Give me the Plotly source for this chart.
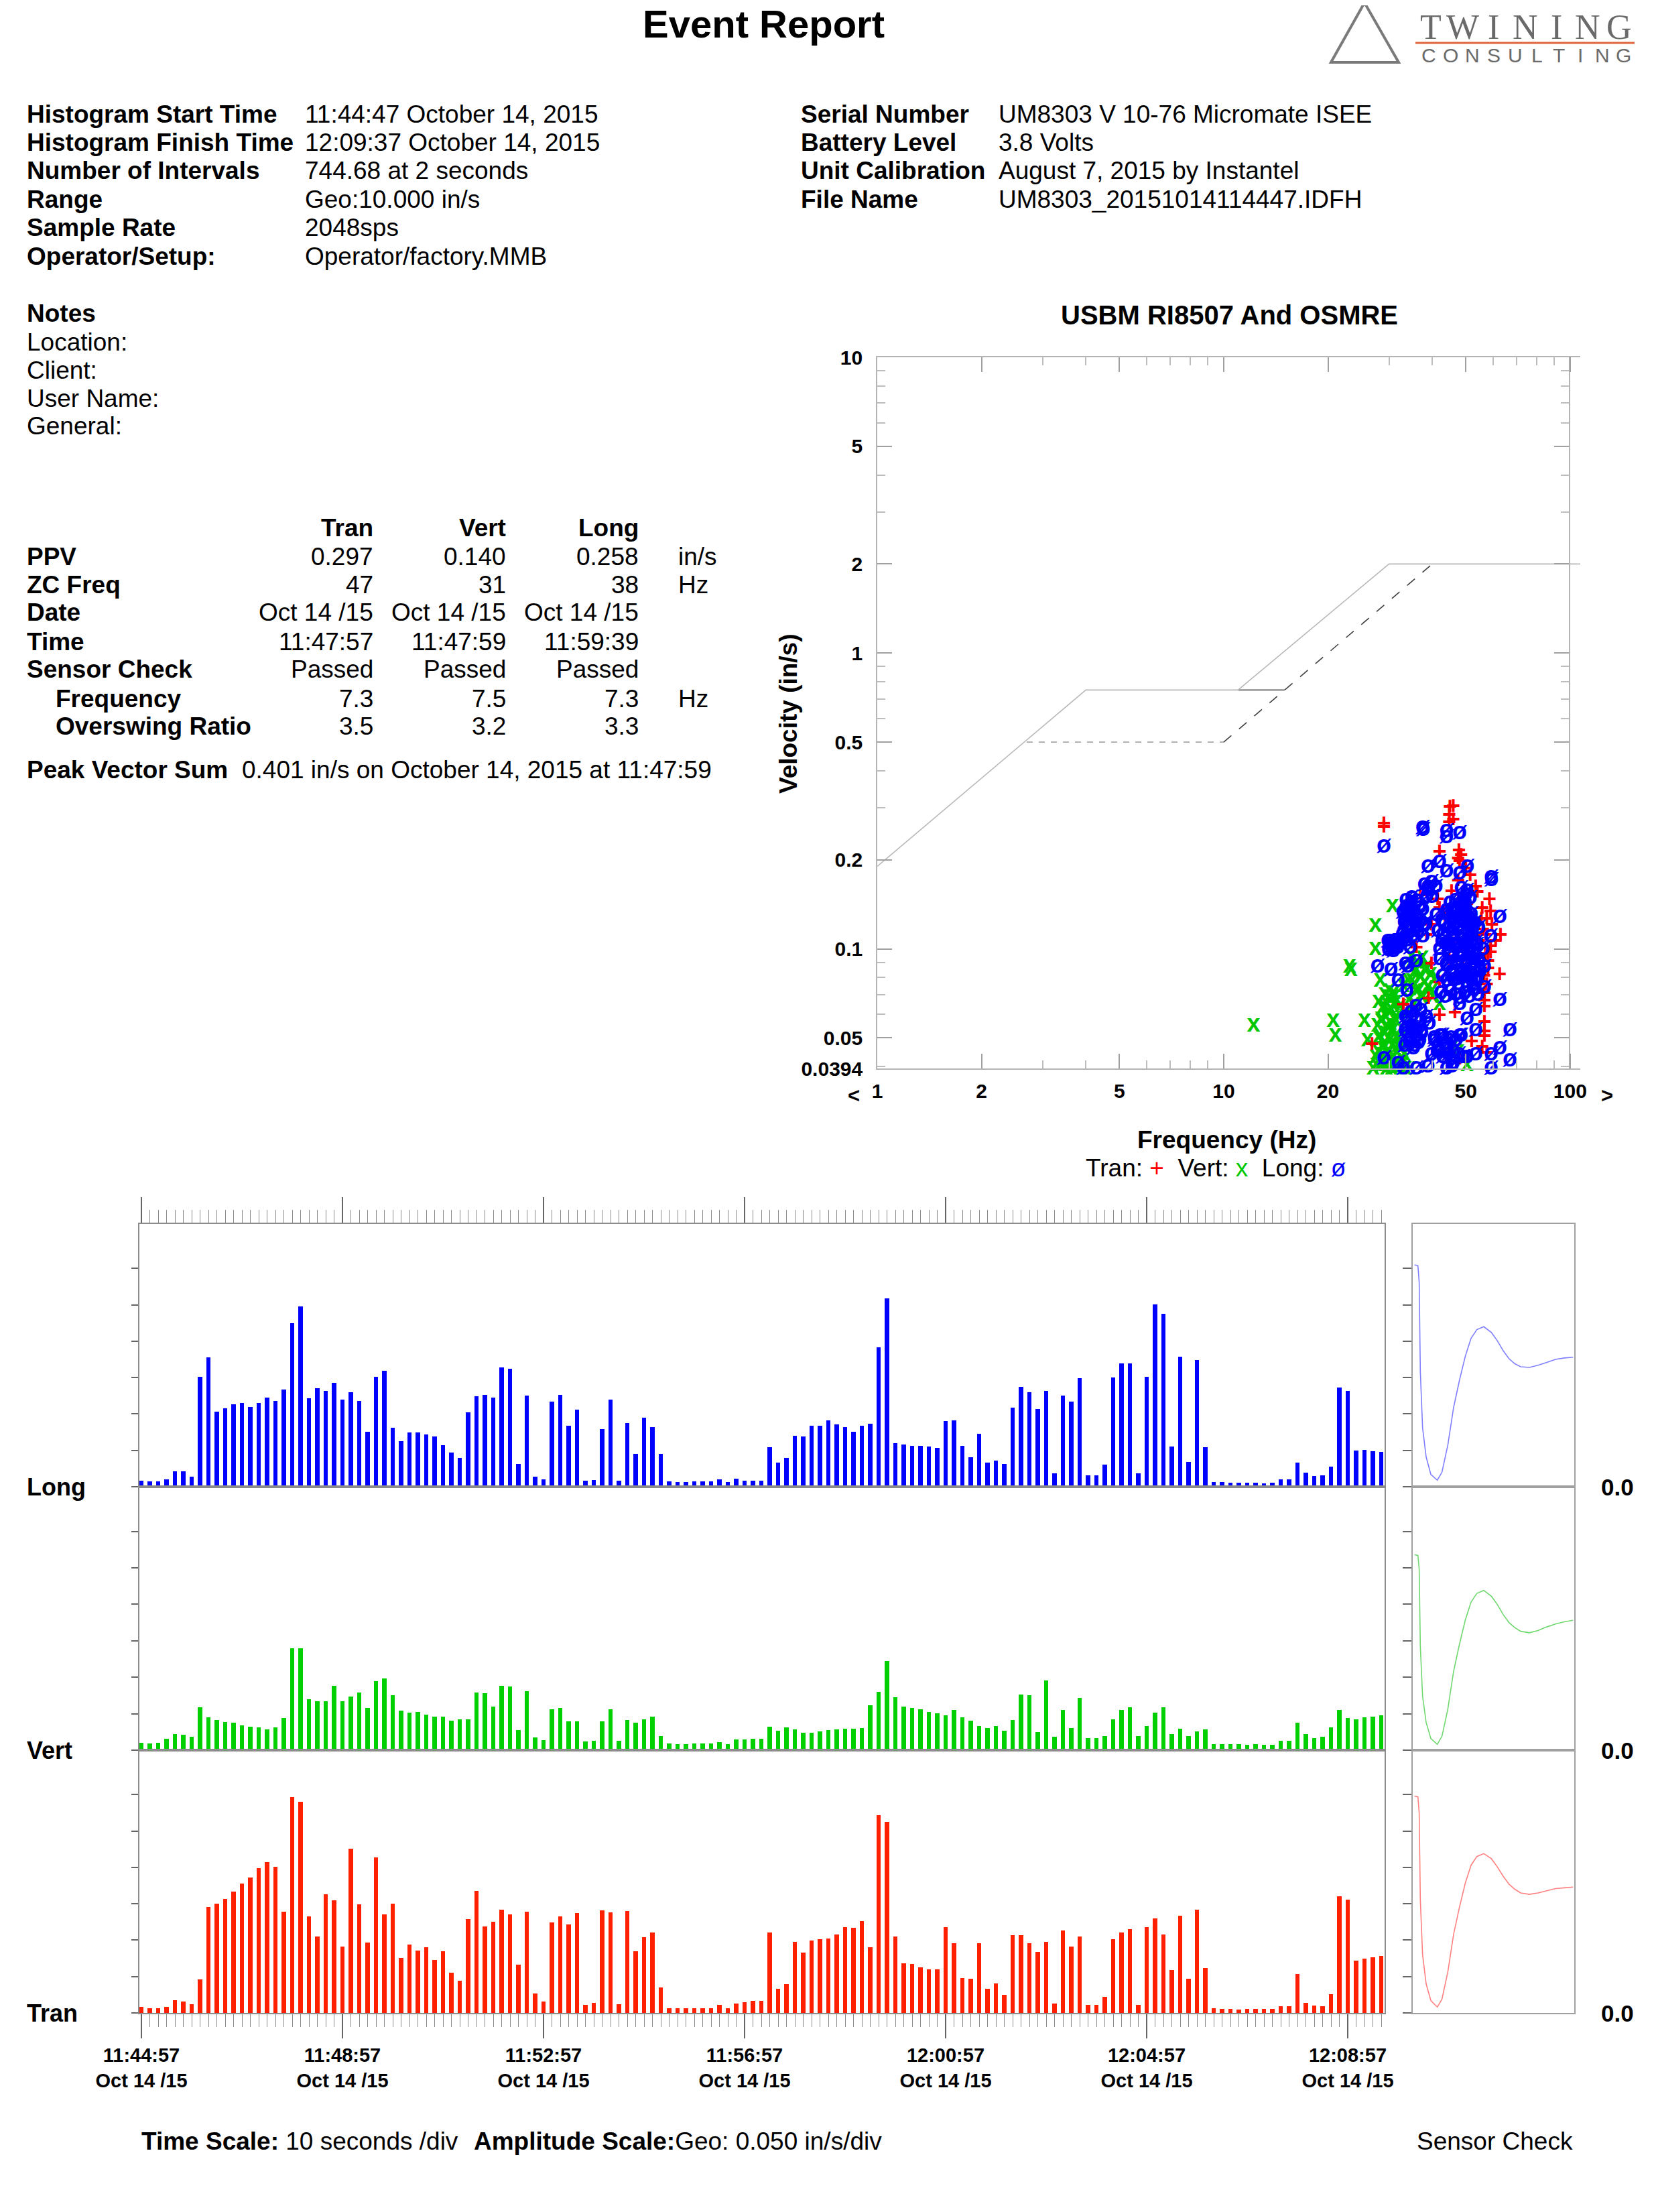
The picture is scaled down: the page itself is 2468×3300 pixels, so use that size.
import math
import pandas as pd
import plotly.graph_objects as go

W, H = 2468, 3300          # page size of the reference
OFF = 8                    # default body margin of the html page
FW, FH = W - 2 * OFF, H - 2 * OFF
FONT = "Liberation Sans, Arial, Helvetica, sans-serif"
SERIF = "Liberation Serif, Times New Roman, serif"

# ------------------------------------------------------------------ data
hist_start = "2015-10-14 11:44:57"
interval_s = 10

long_ppv = [
    0.008, 0.007, 0.007, 0.010, 0.021, 0.021, 0.014, 0.151, 0.178, 0.103,
    0.108, 0.113, 0.115, 0.110, 0.115, 0.123, 0.118, 0.134, 0.225, 0.248,
    0.122, 0.135, 0.132, 0.143, 0.120, 0.130, 0.118, 0.076, 0.151, 0.159,
    0.081, 0.063, 0.075, 0.075, 0.072, 0.069, 0.057, 0.047, 0.040, 0.102,
    0.124, 0.126, 0.123, 0.164, 0.162, 0.031, 0.125, 0.014, 0.010, 0.117,
    0.126, 0.084, 0.106, 0.008, 0.009, 0.079, 0.120, 0.008, 0.088, 0.045,
    0.095, 0.082, 0.045, 0.007, 0.006, 0.006, 0.007, 0.007, 0.007, 0.010,
    0.006, 0.011, 0.008, 0.008, 0.008, 0.054, 0.033, 0.040, 0.070, 0.069,
    0.084, 0.084, 0.091, 0.086, 0.082, 0.076, 0.084, 0.087, 0.192, 0.259,
    0.060, 0.058, 0.056, 0.056, 0.055, 0.053, 0.090, 0.091, 0.056, 0.041,
    0.073, 0.033, 0.036, 0.031, 0.109, 0.137, 0.130, 0.107, 0.132, 0.018,
    0.125, 0.117, 0.149, 0.016, 0.016, 0.030, 0.150, 0.170, 0.170, 0.018,
    0.151, 0.251, 0.238, 0.055, 0.179, 0.034, 0.174, 0.054, 0.006, 0.006,
    0.0055, 0.0055, 0.0055, 0.0055, 0.005, 0.0055, 0.010, 0.010, 0.033, 0.019,
    0.015, 0.016, 0.028, 0.136, 0.132, 0.050, 0.051, 0.049, 0.048,
]
vert_ppv = [
    0.010, 0.0095, 0.010, 0.0156, 0.0218, 0.0215, 0.0187, 0.0589, 0.0454, 0.0414,
    0.039, 0.0377, 0.034, 0.0325, 0.0316, 0.0285, 0.0313, 0.0439, 0.140, 0.140,
    0.0702, 0.0672, 0.0669, 0.0883, 0.0672, 0.0733, 0.0791, 0.0583, 0.0945, 0.0982,
    0.0755, 0.0543, 0.0512, 0.0528, 0.0488, 0.0463, 0.0463, 0.0405, 0.042, 0.0423,
    0.0794, 0.0782, 0.0598, 0.0883, 0.0871, 0.0273, 0.0807, 0.0175, 0.0141, 0.0558,
    0.0577, 0.0393, 0.0399, 0.0123, 0.0126, 0.0399, 0.0564, 0.0126, 0.0411, 0.0377,
    0.0423, 0.0457, 0.0193, 0.0095, 0.0086, 0.0086, 0.0092, 0.0095, 0.0092, 0.0107,
    0.0086, 0.0147, 0.015, 0.0156, 0.016, 0.0319, 0.0264, 0.0316, 0.0288, 0.0242,
    0.0239, 0.0255, 0.0279, 0.0288, 0.0294, 0.0298, 0.0304, 0.062, 0.0804, 0.1218,
    0.073, 0.0598, 0.0577, 0.0558, 0.0528, 0.0506, 0.0479, 0.0555, 0.0448, 0.0408,
    0.0331, 0.0307, 0.0331, 0.0264, 0.0414, 0.0767, 0.0752, 0.0252, 0.096, 0.0187,
    0.0555, 0.0307, 0.0715, 0.0166, 0.0166, 0.0193, 0.042, 0.0552, 0.0589, 0.019,
    0.0331, 0.0518, 0.0589, 0.0224, 0.0294, 0.019, 0.0261, 0.0285, 0.0083, 0.0083,
    0.0083, 0.0083, 0.0077, 0.0083, 0.0074, 0.0074, 0.0129, 0.0129, 0.0377, 0.0224,
    0.0169, 0.0184, 0.0316, 0.0549, 0.0445, 0.042, 0.0451, 0.0463, 0.0482,
]
tran_ppv = [
    0.0083, 0.0061, 0.0064, 0.0083, 0.0175, 0.0153, 0.0123, 0.0457, 0.1454, 0.1506,
    0.157, 0.1666, 0.1779, 0.1862, 0.1988, 0.2074, 0.2006, 0.1387, 0.297, 0.2905,
    0.1328, 0.1046, 0.1629, 0.1549, 0.0908, 0.2255, 0.1491, 0.0963, 0.2135, 0.1353,
    0.1506, 0.0758, 0.0942, 0.0856, 0.0902, 0.073, 0.0847, 0.0552, 0.0442, 0.1288,
    0.1681, 0.1193, 0.1249, 0.1423, 0.1353, 0.0666, 0.1396, 0.0264, 0.0153, 0.1245,
    0.1331, 0.1212, 0.1377, 0.0107, 0.0141, 0.1414, 0.138, 0.0123, 0.1405, 0.0847,
    0.104, 0.1107, 0.035, 0.0064, 0.0064, 0.0064, 0.0064, 0.0064, 0.0064, 0.0107,
    0.0061, 0.0132, 0.015, 0.0163, 0.0169, 0.1104, 0.0328, 0.0399, 0.0979, 0.0831,
    0.0997, 0.1018, 0.1025, 0.1077, 0.1178, 0.1166, 0.1258, 0.0899, 0.2715, 0.2626,
    0.1049, 0.0681, 0.0669, 0.0623, 0.0598, 0.0595, 0.1175, 0.0954, 0.0475, 0.0472,
    0.0954, 0.0334, 0.0402, 0.0252, 0.1071, 0.1067, 0.096, 0.0837, 0.0975, 0.0132,
    0.1138, 0.0911, 0.1049, 0.0107, 0.0107, 0.0218, 0.1012, 0.1104, 0.115, 0.0107,
    0.1178, 0.1301, 0.108, 0.0589, 0.1334, 0.0466, 0.1423, 0.0614, 0.0061, 0.0052,
    0.0052, 0.0049, 0.0052, 0.0052, 0.0052, 0.0052, 0.0092, 0.0089, 0.0534, 0.0135,
    0.0098, 0.0092, 0.0255, 0.1604, 0.1561, 0.0715, 0.0742, 0.0767, 0.0779,
]

# sensor check waveforms (time in % of window, amplitude in in/s above baseline)
sensor_t = [1.1, 3.2, 4.0, 4.7, 6.1, 8.3, 11.2, 15.2, 18.1, 21.7, 25.3, 28.9, 32.5, 36.1,
            39.7, 44.0, 48.7, 52.3, 56.0, 59.6, 63.2, 66.8, 72.2, 77.6, 83.0, 88.4, 93.9, 99.3]
long_sensor = [0.305, 0.304, 0.281, 0.158, 0.081, 0.041, 0.017, 0.009, 0.020, 0.057, 0.109, 0.146,
               0.179, 0.204, 0.216, 0.220, 0.212, 0.201, 0.187, 0.176, 0.169, 0.165, 0.164, 0.167,
               0.171, 0.175, 0.177, 0.178]
vert_sensor = [0.268, 0.267, 0.248, 0.142, 0.074, 0.038, 0.016, 0.008, 0.019, 0.056, 0.108, 0.145,
               0.178, 0.203, 0.215, 0.219, 0.211, 0.200, 0.186, 0.175, 0.168, 0.163, 0.161, 0.164,
               0.169, 0.173, 0.176, 0.178]
tran_sensor = [0.298, 0.297, 0.275, 0.155, 0.080, 0.040, 0.017, 0.008, 0.019, 0.056, 0.108, 0.145,
               0.178, 0.203, 0.215, 0.219, 0.212, 0.201, 0.188, 0.177, 0.170, 0.165, 0.163, 0.165,
               0.168, 0.171, 0.172, 0.173]

# frequency / velocity scatter (Hz, in/s)
tran_pts = [
    (29.0, 0.255), (29.0, 0.262), (45.0, 0.298), (46.0, 0.300), (44.8, 0.280), (44.8, 0.265),
    (46.0, 0.270), (42.0, 0.210), (47.8, 0.213), (47.5, 0.200), (48.0, 0.196), (48.5, 0.205),
    (54.0, 0.154), (53.4, 0.160), (55.8, 0.136), (59.0, 0.132), (59.5, 0.119), (63.0, 0.110),
    (59.0, 0.101), (59.0, 0.096), (62.6, 0.081), (56.6, 0.070), (56.6, 0.066), (56.6, 0.063),
    (56.6, 0.056), (56.6, 0.052), (56.6, 0.050), (55.8, 0.046), (48.0, 0.042), (42.0, 0.059),
    (39.0, 0.067), (35.0, 0.063), (33.0, 0.064), (26.8, 0.047), (43.5, 0.127), (47.5, 0.168),
    (49.0, 0.150), (50.4, 0.140), (46.0, 0.103), (42.0, 0.136), (39.8, 0.119), (38.5, 0.110),
    (36.0, 0.100), (39.8, 0.088), (44.8, 0.091), (42.0, 0.076), (49.0, 0.087), (57.0, 0.110),
    (57.5, 0.125), (58.5, 0.145), (53.0, 0.120), (51.5, 0.175), (50.0, 0.185), (45.5, 0.155),
    (41.5, 0.145), (37.0, 0.150), (33.5, 0.110), (46.5, 0.060), (52.0, 0.048), (57.5, 0.044),
    (58.0, 0.085), (61.0, 0.105), (55.5, 0.125), (56.0, 0.115), (57.0, 0.095), (58.0, 0.090),
    (56.5, 0.080), (57.5, 0.075), (54.5, 0.105), (113, 0.114), (113, 0.089), (113, 0.070),
    (113, 0.061), (113, 0.055), (113, 0.046),
]
vert_pts = [
    (12.2, 0.055), (20.7, 0.057), (21.0, 0.051), (23.1, 0.087), (23.3, 0.085), (25.5, 0.057),
    (26.0, 0.049), (27.4, 0.120), (27.4, 0.100), (30.7, 0.139), (28.3, 0.078), (28.0, 0.066),
    (29.0, 0.064), (30.0, 0.061), (31.0, 0.065), (28.5, 0.058), (29.5, 0.055), (30.5, 0.053),
    (31.5, 0.057), (32.0, 0.050), (28.0, 0.050), (29.0, 0.047), (30.0, 0.045), (31.0, 0.043),
    (32.5, 0.046), (33.0, 0.042), (27.5, 0.043), (28.5, 0.041), (29.5, 0.0395), (30.5, 0.0395),
    (31.5, 0.0398), (32.5, 0.040), (33.5, 0.0395), (34.5, 0.0395), (27.0, 0.0395), (30.0, 0.069),
    (31.0, 0.071), (29.2, 0.052), (30.2, 0.049), (28.8, 0.044), (31.8, 0.047), (27.8, 0.055),
    (34.5, 0.089), (36.0, 0.085), (37.0, 0.080), (38.0, 0.077), (39.0, 0.074), (40.0, 0.072),
    (35.0, 0.078), (36.5, 0.073), (38.5, 0.086), (41.0, 0.080), (30.7, 0.070), (42.0, 0.065),
    (45.6, 0.046), (50.4, 0.0405), (47.5, 0.045), (33.5, 0.060), (35.5, 0.065), (37.5, 0.068),
    (27.6, 0.0405), (28.4, 0.0402), (29.3, 0.0408), (30.1, 0.0401), (31.0, 0.0406),
    (31.9, 0.0403), (32.8, 0.0409), (27.9, 0.045), (28.8, 0.046), (29.7, 0.044), (30.6, 0.047),
    (31.5, 0.045), (32.3, 0.048), (33.2, 0.044), (28.2, 0.051), (29.0, 0.052), (29.9, 0.050),
    (30.8, 0.053), (31.7, 0.051), (32.6, 0.054), (28.5, 0.057), (29.4, 0.059), (30.3, 0.056),
    (31.2, 0.058), (32.1, 0.060), (28.7, 0.063), (29.6, 0.065), (30.5, 0.062), (31.4, 0.066),
    (32.4, 0.064), (29.2, 0.070), (30.1, 0.072), (31.1, 0.069), (33.0, 0.075), (34.1, 0.078),
    (34.8, 0.094), (36.2, 0.090), (37.5, 0.093), (35.4, 0.083), (36.9, 0.081), (38.3, 0.084),
    (39.6, 0.082), (35.9, 0.072), (37.3, 0.070), (38.8, 0.074), (40.1, 0.069), (34.3, 0.067),
    (112, 0.106), (112, 0.072), (112, 0.058), (112, 0.052), (112, 0.044), (112, 0.0425),
]
long_pts = [
    (29.0, 0.222), (37.5, 0.256), (37.7, 0.252), (44.0, 0.250), (44.0, 0.238), (48.0, 0.246),
    (42.0, 0.197), (38.9, 0.190), (50.5, 0.190), (44.0, 0.183), (48.0, 0.180), (59.2, 0.174),
    (59.3, 0.171), (38.9, 0.162), (39.8, 0.168), (50.4, 0.157), (34.8, 0.144), (33.8, 0.139),
    (37.5, 0.136), (62.7, 0.128), (113, 0.135), (113, 0.127),
    (33.5, 0.137), (33.8, 0.128), (34.0, 0.121), (34.8, 0.133), (35.3, 0.125), (36.0, 0.129),
    (36.3, 0.120), (33.3, 0.124), (37.8, 0.121), (33.4, 0.110), (33.8, 0.107), (34.5, 0.101),
    (30.2, 0.106), (30.8, 0.105), (31.3, 0.102), (30.6, 0.100),
    (27.8, 0.087), (30.4, 0.085), (31.9, 0.078), (33.5, 0.089), (34.0, 0.087), (36.0, 0.091),
    (33.8, 0.072),
    (41.0, 0.130), (42.5, 0.125), (44.0, 0.135), (45.5, 0.128), (47.0, 0.133), (48.5, 0.127),
    (50.0, 0.130), (51.5, 0.126), (53.0, 0.122), (54.5, 0.118), (41.5, 0.115), (43.0, 0.112),
    (44.5, 0.118), (46.0, 0.113), (47.5, 0.116), (49.0, 0.111), (50.5, 0.115), (52.0, 0.110),
    (53.5, 0.105), (42.0, 0.100), (43.5, 0.104), (45.0, 0.098), (46.5, 0.102), (48.0, 0.097),
    (49.5, 0.101), (51.0, 0.096), (52.5, 0.092), (47.0, 0.089), (48.5, 0.085), (50.0, 0.088),
    (51.5, 0.083), (53.0, 0.086), (46.0, 0.079), (47.5, 0.076), (49.0, 0.080), (50.5, 0.075),
    (52.0, 0.078), (54.0, 0.080), (44.0, 0.088), (45.5, 0.084),
    (38.0, 0.165), (39.0, 0.158), (40.0, 0.150), (41.0, 0.162), (38.5, 0.150),
    (48.5, 0.160), (50.0, 0.152), (51.5, 0.148), (49.0, 0.145),
    (56.0, 0.100), (56.6, 0.087), (56.6, 0.074), (59.0, 0.110), (62.7, 0.067), (67.0, 0.053),
    (62.7, 0.046), (67.0, 0.042), (59.2, 0.044), (59.2, 0.0395),
    (53.4, 0.062), (53.4, 0.053), (53.4, 0.044), (50.4, 0.058), (50.4, 0.043), (48.0, 0.065),
    (48.0, 0.051), (46.0, 0.041), (44.0, 0.0395), (45.6, 0.040),
    (33.8, 0.058), (34.8, 0.055), (35.9, 0.051), (36.5, 0.048), (34.3, 0.049), (35.3, 0.046),
    (37.0, 0.057), (33.4, 0.053), (35.9, 0.064), (38.5, 0.059), (39.2, 0.056),
    (40.5, 0.050), (41.5, 0.047), (42.8, 0.051), (44.0, 0.046), (45.2, 0.049), (42.2, 0.045),
    (29.0, 0.0425), (31.9, 0.041), (33.0, 0.0395), (36.0, 0.0395), (38.9, 0.040),
    # dense mass 42-55 Hz
    (42.3, 0.071), (43.6, 0.069), (45.2, 0.072), (46.8, 0.070), (48.1, 0.068), (49.7, 0.071),
    (51.2, 0.069), (52.6, 0.073), (54.1, 0.070), (42.8, 0.081), (44.1, 0.078), (45.7, 0.082),
    (47.2, 0.079), (48.8, 0.083), (50.3, 0.080), (51.9, 0.082), (53.4, 0.079), (55.0, 0.084),
    (42.1, 0.092), (43.9, 0.089), (45.4, 0.093), (47.0, 0.091), (48.6, 0.094), (50.1, 0.090),
    (51.6, 0.093), (53.2, 0.095), (54.6, 0.091), (42.6, 0.106), (44.3, 0.103), (45.9, 0.107),
    (47.5, 0.104), (49.1, 0.108), (50.6, 0.105), (52.2, 0.107), (53.8, 0.103), (43.2, 0.121),
    (44.8, 0.118), (46.3, 0.122), (47.9, 0.119), (49.4, 0.123), (51.0, 0.120), (52.4, 0.117),
    (44.0, 0.131), (45.6, 0.134), (47.1, 0.129), (48.7, 0.133), (50.2, 0.136), (51.8, 0.131),
    (45.0, 0.143), (46.6, 0.146), (48.2, 0.141), (49.8, 0.144),
    # dense mass 33-38 Hz
    (32.8, 0.112), (34.0, 0.115), (35.2, 0.111), (36.4, 0.114), (37.6, 0.110), (33.2, 0.123),
    (34.5, 0.126), (35.8, 0.122), (37.0, 0.125), (38.3, 0.121), (32.9, 0.133), (34.2, 0.137),
    (35.5, 0.134), (36.8, 0.138), (33.6, 0.146), (34.9, 0.149), (36.1, 0.145),
    (29.9, 0.099), (30.9, 0.098), (31.8, 0.101), (30.3, 0.104), (31.3, 0.107), (32.2, 0.104),
    (29.8, 0.106),
    (33.3, 0.047), (34.4, 0.048), (35.6, 0.047), (36.8, 0.049), (33.7, 0.052), (34.9, 0.054),
    (36.1, 0.053), (37.3, 0.052), (33.5, 0.059), (34.7, 0.061), (36.0, 0.058), (37.1, 0.062),
    (39.8, 0.044), (41.3, 0.045), (42.9, 0.043), (44.5, 0.044), (46.1, 0.045), (47.7, 0.044),
    (49.2, 0.043), (40.6, 0.049), (42.1, 0.051), (43.7, 0.048), (45.3, 0.050), (46.9, 0.049),
    (48.5, 0.051),
    (113, 0.109), (113, 0.089), (113, 0.072), (113, 0.069), (113, 0.057), (113, 0.047),
    (113, 0.044), (113, 0.0435),
]

# criteria curves
usbm_freq = [1, 4, 11, 30, 107]
usbm_vel = [0.19, 0.75, 0.75, 2.0, 2.0]
plaster_freq = [2.7, 10]
plaster_vel = [0.5, 0.5]
osmre_freq = [10, 40]
osmre_vel = [0.5, 2.0]
knee_freq = [11, 15]
knee_vel = [0.75, 0.75]

freq_ticks = [1, 2, 5, 10, 20, 50, 100]
freq_minor = [3, 4, 6, 7, 8, 9, 30, 40, 60, 70, 80, 90]
vel_ticks = [0.0394, 0.05, 0.1, 0.2, 0.5, 1, 2, 5, 10]
vel_labels = ["0.0394", "0.05", "0.1", "0.2", "0.5", "1", "2", "5", "10"]
vel_minor = [0.04, 0.06, 0.07, 0.08, 0.09, 0.3, 0.4, 0.6, 0.7, 0.8, 0.9, 3, 4, 6, 7, 8, 9]

amp_ticks = [0, 0.05, 0.10, 0.15, 0.20, 0.25, 0.30]

# header text
info_left = [("Histogram Start Time", "11:44:47 October 14, 2015"),
             ("Histogram Finish Time", "12:09:37 October 14, 2015"),
             ("Number of Intervals", "744.68 at 2 seconds"),
             ("Range", "Geo:10.000 in/s"),
             ("Sample Rate", "2048sps"),
             ("Operator/Setup:", "Operator/factory.MMB")]
info_right = [("Serial Number", "UM8303 V 10-76 Micromate ISEE"),
              ("Battery Level", "3.8 Volts"),
              ("Unit Calibration", "August 7, 2015 by Instantel"),
              ("File Name", "UM8303_20151014114447.IDFH")]
notes = ["Location:", "Client:", "User Name:", "General:"]
channels = ["Tran", "Vert", "Long"]
table_rows = [
    ("PPV", False, ["0.297", "0.140", "0.258"], "in/s"),
    ("ZC Freq", False, ["47", "31", "38"], "Hz"),
    ("Date", False, ["Oct 14 /15", "Oct 14 /15", "Oct 14 /15"], ""),
    ("Time", False, ["11:47:57", "11:47:59", "11:59:39"], ""),
    ("Sensor Check", False, ["Passed", "Passed", "Passed"], ""),
    ("Frequency", True, ["7.3", "7.5", "7.3"], "Hz"),
    ("Overswing Ratio", True, ["3.5", "3.2", "3.3"], ""),
]

# ------------------------------------------------------------------ helpers
def px(x):
    return (x - OFF) / FW


def py(y):
    return 1 - (y - OFF) / FH


annotations = []


def add_text(x, y, text, size=37, xanchor="left", bold=False, color="black",
             family=FONT, angle=0):
    annotations.append(dict(
        x=px(x), y=py(y), xref="paper", yref="paper",
        text=f"<b>{text}</b>" if bold else text, showarrow=False,
        xanchor=xanchor, yanchor="middle", textangle=angle,
        font=dict(family=family, size=size, color=color)))


# ------------------------------------------------------------------ figure
fig = go.Figure()

# criteria curves
fig.add_trace(go.Scatter(x=usbm_freq, y=usbm_vel, mode="lines", xaxis="x", yaxis="y2",
                         line=dict(color="#b8b8b8", width=1.6), hoverinfo="skip"))
fig.add_trace(go.Scatter(x=plaster_freq, y=plaster_vel, mode="lines", xaxis="x", yaxis="y",
                         line=dict(color="#a8a8a8", width=1.6, dash="dash"), hoverinfo="skip"))
fig.add_trace(go.Scatter(x=osmre_freq, y=osmre_vel, mode="lines", xaxis="x", yaxis="y",
                         line=dict(color="#404040", width=1.6, dash="longdash"), hoverinfo="skip"))
fig.add_trace(go.Scatter(x=knee_freq, y=knee_vel, mode="lines", xaxis="x", yaxis="y",
                         line=dict(color="#606060", width=1.6), hoverinfo="skip"))

# scatter points (drawn as the report's text glyphs)
for pts, glyph, color in [(vert_pts, "x", "#00C800"), (tran_pts, "+", "#FF0000"),
                          (long_pts, "ø", "#0000FF")]:
    fig.add_trace(go.Scatter(
        x=[p[0] for p in pts], y=[p[1] for p in pts], mode="text",
        text=[f"<b>{glyph}</b>"] * len(pts), textposition="middle center",
        textfont=dict(family=FONT, size=36, color=color),
        xaxis="x", yaxis="y", cliponaxis=False, hoverinfo="skip"))

# histogram bars
times = pd.date_range(hist_start, periods=len(long_ppv), freq=f"{interval_s}s")
bar_w = interval_s * 1000 * 0.5
for vals, color, ax in [(long_ppv, "#0000FF", "3"), (vert_ppv, "#00D000", "4"),
                        (tran_ppv, "#FF2000", "5")]:
    fig.add_trace(go.Bar(x=times, y=vals, width=bar_w, marker=dict(color=color, line_width=0),
                         xaxis="x" + ax, yaxis="y" + ax, hoverinfo="skip"))

# sensor check curves
for vals, color, ax in [(long_sensor, "#8080FF", "6"), (vert_sensor, "#70D870", "7"),
                        (tran_sensor, "#FF8080", "8")]:
    fig.add_trace(go.Scatter(x=sensor_t, y=vals, mode="lines", line=dict(color=color, width=1.6),
                             xaxis="x" + ax, yaxis="y" + ax, hoverinfo="skip"))

# ------------------------------------------------------------------ axes
LINE = "#b4b4b4"
scatter_x_dom = [px(1309), px(2358)]
scatter_y_dom = [py(1594), py(533)]
tickfont_b = dict(family=FONT, size=30, color="black", weight="bold")

layout_axes = dict(
    xaxis=dict(domain=scatter_x_dom, anchor="y", type="log", range=[0, math.log10(107)],
               tickvals=freq_ticks, ticktext=[str(v) for v in freq_ticks],
               ticks="inside", ticklen=22, tickwidth=1.5, tickcolor="#a0a0a0",
               minor=dict(tickvals=freq_minor, ticks="inside", ticklen=12, tickcolor="#bdbdbd",
                          tickwidth=1.5),
               showline=True, linecolor=LINE, linewidth=1.6, mirror="ticks", showgrid=False,
               zeroline=False, tickfont=tickfont_b, ticklabelstandoff=6),
    yaxis=dict(domain=scatter_y_dom, anchor="x", type="log",
               range=[math.log10(0.0394), 1], tickvals=vel_ticks, ticktext=vel_labels,
               ticks="inside", ticklen=22, tickwidth=1.5, tickcolor="#a0a0a0",
               minor=dict(tickvals=vel_minor, ticks="inside", ticklen=12, tickcolor="#bdbdbd",
                          tickwidth=1.5),
               showline=True, linecolor=LINE, linewidth=1.6, showgrid=False, zeroline=False,
               tickfont=tickfont_b, ticklabelstandoff=14),
    yaxis2=dict(overlaying="y", anchor="free", position=px(2342), side="right", type="log",
                range=[math.log10(0.0394), 1], tickvals=vel_ticks, showticklabels=False,
                ticks="inside", ticklen=22, tickwidth=1.5, tickcolor="#a0a0a0",
                minor=dict(tickvals=vel_minor, ticks="inside", ticklen=12, tickcolor="#bdbdbd",
                           tickwidth=1.5),
                showline=True, linecolor=LINE, linewidth=1.6, showgrid=False, zeroline=False),
)

hist_dom = [px(208), px(2066)]
sens_dom = [px(2108), px(2349)]
panel_doms = {"L": [py(2218), py(1826)], "V": [py(2611), py(2218)], "T": [py(3003), py(2611)]}
t0 = pd.Timestamp(hist_start)
hist_range = [(t0 - pd.Timedelta(seconds=2.4)).strftime("%Y-%m-%d %H:%M:%S.%f"),
              (times[-1] + pd.Timedelta(seconds=4)).strftime("%Y-%m-%d %H:%M:%S.%f")]
tick_times = [t.strftime("%Y-%m-%d %H:%M:%S") for t in pd.date_range(t0, times[-1], freq="240s")]
HLINE = "#8c8c8c"
minor_hist = dict(tickmode="linear", tick0=hist_start, dtick=interval_s * 1000, ticks="outside",
                  ticklen=19, tickcolor="#8a8a8a", tickwidth=1.3)

hist_y = dict(range=[0, 0.3612], tickvals=amp_ticks, ticks="outside", ticklen=10,
              tickcolor="#666", tickwidth=1.5, showticklabels=False, showline=True,
              linecolor=HLINE, linewidth=2, mirror=True, showgrid=False, zeroline=False)
sens_y = dict(hist_y, ticklen=13)

layout_axes.update(
    xaxis3=dict(domain=hist_dom, anchor="y3", type="date", range=hist_range, side="top",
                tickmode="array", tickvals=tick_times, ticks="outside", ticklen=38,
                tickcolor="#666", tickwidth=1.5, minor=minor_hist, showticklabels=False,
                showline=True, linecolor=HLINE, linewidth=2, mirror=True, showgrid=False),
    yaxis3=dict(hist_y, domain=panel_doms["L"], anchor="x3"),
    xaxis4=dict(domain=hist_dom, anchor="y4", type="date", matches="x3", ticks="",
                showticklabels=False, showline=True, linecolor=HLINE, linewidth=2,
                mirror=True, showgrid=False),
    yaxis4=dict(hist_y, domain=panel_doms["V"], anchor="x4"),
    xaxis5=dict(domain=hist_dom, anchor="y5", type="date", matches="x3", side="bottom",
                tickmode="array", tickvals=tick_times, tickformat="%H:%M:%S<br>%b %d /%y",
                ticks="outside", ticklen=36, tickcolor="#666", tickwidth=1.5, minor=minor_hist,
                tickfont=dict(family=FONT, size=29, color="black", weight="bold"),
                showline=True, linecolor=HLINE, linewidth=2, mirror=True, showgrid=False),
    yaxis5=dict(hist_y, domain=panel_doms["T"], anchor="x5"),
)
for ax, key in [("6", "L"), ("7", "V"), ("8", "T")]:
    layout_axes["xaxis" + ax] = dict(domain=sens_dom, anchor="y" + ax, range=[0, 100],
                                     ticks="", showticklabels=False, showline=True,
                                     linecolor="#a0a0a0", linewidth=2, mirror=True,
                                     showgrid=False, zeroline=False)
    layout_axes["yaxis" + ax] = dict(sens_y, domain=panel_doms[key], anchor="x" + ax,
                                     linecolor="#a0a0a0")
for k in layout_axes:
    layout_axes[k]["automargin"] = False
    layout_axes[k]["fixedrange"] = True

# ------------------------------------------------------------------ text
add_text(1139, 36, "Event Report", size=58, xanchor="center", bold=True)

for i, (lab, val) in enumerate(info_left):
    y = 170 + i * 42.5
    add_text(38, y, lab, bold=True)
    add_text(453, y, val)
for i, (lab, val) in enumerate(info_right):
    y = 170 + i * 42.5
    add_text(1193, y, lab, bold=True)
    add_text(1488, y, val)

add_text(38, 468, "Notes", bold=True)
for i, n in enumerate(notes):
    add_text(38, 510 + i * 42, n)

col_right = [559, 757, 955]
for ch, xr in zip(channels, col_right):
    add_text(xr, 787, ch, bold=True, xanchor="right")
row_y = [830, 872, 914, 957, 999, 1042, 1084]
for (lab, indent, vals, unit), y in zip(table_rows, row_y):
    add_text(81 if indent else 38, y, lab, bold=True)
    for v, xr in zip(vals, col_right):
        add_text(xr, y, v, xanchor="right")
    if unit:
        add_text(1010, y, unit)
add_text(38, 1148, "Peak Vector Sum", bold=True)
add_text(359, 1148, "0.401 in/s on October 14, 2015 at 11:47:59")

# frequency plot labels
add_text(1834, 470, "USBM RI8507 And OSMRE", size=40, xanchor="center", bold=True)
add_text(1176, 1065, "Velocity (in/s)", size=37, xanchor="center", bold=True, angle=-90)
add_text(1830, 1700, "Frequency (Hz)", size=37, xanchor="center", bold=True)
nb = "\u00a0"
add_text(1814, 1742,
         f"Tran:{nb}<span style='color:#FF0000'>+</span>{nb}{nb}Vert:{nb}"
         f"<span style='color:#00C800'>x</span>{nb}{nb}Long:{nb}"
         f"<span style='color:#0000FF'>ø</span>", size=37, xanchor="center")
add_text(1274, 1634, "<", size=31, xanchor="center", bold=True)
add_text(2398, 1634, ">", size=31, xanchor="center", bold=True)

# histogram labels
for name, yb in [("Long", 2218), ("Vert", 2611), ("Tran", 3003)]:
    add_text(38, yb, name, size=36, bold=True)
    add_text(2413, yb, "0.0", size=35, xanchor="center", bold=True)

add_text(209, 3194, "<b>Time Scale:</b> 10 seconds /div", size=37)
add_text(705, 3194, "<b>Amplitude Scale:</b>Geo: 0.050 in/s/div", size=37)
add_text(2349, 3194, "Sensor Check", size=37, xanchor="right")

# logo
logo_top = "TWINING"
logo_bottom = "CONSULTING"
for i, ch in enumerate(logo_top):
    add_text(2112 + (i + 0.5) * 327 / len(logo_top), 40, ch, size=52,
             xanchor="center", color="#6a6a6a", family=SERIF)
for i, ch in enumerate(logo_bottom):
    add_text(2116 + (i + 0.5) * 323 / len(logo_bottom), 82, ch, size=30,
             xanchor="center", color="#6a6a6a")

shapes = [
    dict(type="path", xref="paper", yref="paper",
         path=f"M {px(1986)},{py(93)} L {px(2036)},{py(4)} L {px(2087)},{py(93)} Z",
         line=dict(color="#7a7a7a", width=4), fillcolor="rgba(0,0,0,0)"),
    dict(type="line", xref="paper", yref="paper", x0=px(2112), x1=px(2439), y0=py(64),
         y1=py(64), line=dict(color="#E2643A", width=3)),
]

fig.update_layout(
    template="none",
    width=FW, height=FH, margin=dict(l=0, r=0, t=0, b=0, pad=0), autosize=False,
    paper_bgcolor="white", plot_bgcolor="white", showlegend=False,
    font=dict(family=FONT, color="black"), bargap=0,
    annotations=annotations, shapes=shapes, **layout_axes)

fig.write_html("out.html")
